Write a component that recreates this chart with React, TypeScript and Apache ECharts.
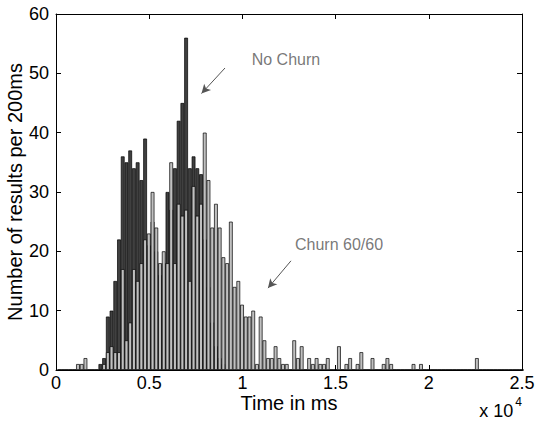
import React, { useEffect, useRef } from "react";
import * as echarts from "echarts";

// Histogram: 200 ms bins; origin of the first bin (ms)
const BIN_MS = 200;
const BIN_ORIGIN_MS = 80;

// "No Churn" counts per bin (dark bars), bins 0..124
const noChurn = [
  0, 0, 0, 0, 0, 0, 0, 0, 0, 0,
  0, 1, 2, 9, 10, 15, 22, 36, 35, 37,
  34, 35, 32, 39, 21, 25, 20, 16, 18, 30,
  27, 34, 42, 45, 56, 34, 36, 34, 33, 22,
  14, 8, 4, 2, 1, 0, 0, 0, 0, 0,
  0, 0, 0, 0, 0, 0, 0, 0, 0, 0,
  0, 0, 0, 0, 0, 0, 0, 0, 0, 0,
  0, 0, 0, 0, 0, 0, 0, 0, 0, 0,
  0, 0, 0, 0, 0, 0, 0, 0, 0, 0,
  0, 0, 0, 0, 0, 0, 0, 0, 0, 0,
  0, 0, 0, 0, 0, 0, 0, 0, 0, 0,
  0, 0, 0, 0, 0, 0, 0, 0, 0, 0,
  0, 0, 0, 0, 0,
];

// "Churn 60/60" counts per bin (light bars), bins 0..124
const churn = [
  0, 0, 0, 0, 0, 1, 1, 2, 0, 0,
  0, 0, 1, 3, 4, 3, 3, 17, 5, 8,
  17, 15, 18, 22, 23, 30, 24, 18, 20, 18,
  35, 18, 28, 26, 27, 15, 31, 26, 28, 40,
  32, 24, 28, 24, 19, 18, 25, 14, 15, 11,
  9, 9, 10, 1, 9, 5, 2, 2, 4, 2,
  1, 1, 0, 5, 2, 4, 0, 2, 1, 2,
  1, 1, 2, 0, 0, 4, 0, 1, 2, 0,
  1, 3, 0, 0, 2, 0, 0, 1, 2, 1,
  0, 0, 0, 0, 0, 1, 0, 1, 0, 0,
  0, 0, 0, 0, 0, 0, 0, 0, 0, 0,
  0, 0, 2, 0, 0, 0, 0, 0, 0, 0,
  0, 0, 0, 0, 0,
];

const xTickValues = [0, 5000, 10000, 15000, 20000, 25000];
const xTickLabels = ["0", "0.5", "1", "1.5", "2", "2.5"];
const yTickValues = [0, 10, 20, 30, 40, 50, 60];

// Annotations (data coordinates)
const noChurnLabel = { text: "No Churn", at: [10500, 52.4] };
const noChurnArrow = { from: [9067, 50.9], to: [7806, 46.6] };
const churnLabel = { text: "Churn 60/60", at: [12822, 21.1] };
const churnArrow = { from: [12607, 18.4], to: [11373, 13.8] };

const FONT = "Liberation Sans, Arial, Helvetica, sans-serif";
const W = 538;
const H = 423;
const GRID = { left: 56, right: 16, top: 14, bottom: 53 };

export default function App() {
  const ref = useRef<HTMLDivElement>(null);

  useEffect(() => {
    document.body.style.margin = "0";
    if (!ref.current) return;
    const chart = echarts.init(ref.current, undefined, { renderer: "svg" });
    const nBins = churn.length;
    const barPx = (W - GRID.left - GRID.right) / nBins;
    const toData = (arr: number[]) =>
      arr.map((v, i) => [BIN_ORIGIN_MS + BIN_MS * (i + 0.5), v]);

    const axisLine = { show: true, onZero: false, lineStyle: { color: "#000", width: 1 } };
    const tick = { show: true, inside: true, length: 5, lineStyle: { color: "#000", width: 1 } };

    const xBase = {
      type: "value",
      min: xTickValues[0],
      max: xTickValues[xTickValues.length - 1],
      interval: xTickValues[1] - xTickValues[0],
      axisLine,
      axisTick: tick,
      splitLine: { show: false },
    };
    const yBase = {
      type: "value",
      min: yTickValues[0],
      max: yTickValues[yTickValues.length - 1],
      interval: yTickValues[1] - yTickValues[0],
      axisLine,
      axisTick: tick,
      splitLine: { show: false },
    };

    const option: any = {
      animation: false,
      grid: { ...GRID, containLabel: false, outerBoundsMode: "none" },
      xAxis: [
        {
          ...xBase,
          position: "bottom",
          axisLabel: {
            color: "#000",
            fontSize: 18,
            fontFamily: FONT,
            margin: 4,
            formatter: (v: number) => xTickLabels[xTickValues.indexOf(v)] ?? "",
          },
          name: "Time in ms",
          nameLocation: "middle",
          nameGap: 23,
          nameMoveOverlap: false,
          nameTextStyle: { color: "#000", fontSize: 20, fontFamily: FONT },
        },
        { ...xBase, position: "top", axisLabel: { show: false } },
      ],
      yAxis: [
        {
          ...yBase,
          position: "left",
          axisLabel: { color: "#000", fontSize: 18, fontFamily: FONT, margin: 7 },
          name: "Number of results per 200ms",
          nameLocation: "middle",
          nameGap: 31,
          nameMoveOverlap: false,
          nameTextStyle: { color: "#000", fontSize: 20, fontFamily: FONT },
        },
        { ...yBase, position: "right", axisLabel: { show: false } },
      ],
      series: [
        {
          name: "No Churn",
          type: "bar",
          data: toData(noChurn),
          barWidth: barPx,
          barGap: "-100%",
          itemStyle: { color: "#404040", borderColor: "#000", borderWidth: 0.7 },
        },
        {
          name: "Churn 60/60",
          type: "bar",
          data: toData(churn),
          barWidth: barPx,
          barGap: "-100%",
          itemStyle: { color: "#c0c0c0", borderColor: "#000", borderWidth: 0.7 },
        },
        {
          type: "scatter",
          symbolSize: 0,
          silent: true,
          data: [
            { value: noChurnLabel.at, name: noChurnLabel.text },
            { value: churnLabel.at, name: churnLabel.text },
          ],
          label: {
            show: true,
            position: "right",
            distance: 0,
            formatter: (p: any) => p.name,
            color: "#555",
            fontSize: 16,
            fontFamily: FONT,
          },
          markLine: {
            silent: true,
            symbol: ["none", "arrow"],
            symbolSize: [7, 9],
            label: { show: false },
            lineStyle: { color: "#555", width: 1, type: "solid" },
            data: [
              [{ coord: noChurnArrow.from }, { coord: noChurnArrow.to }],
              [{ coord: churnArrow.from }, { coord: churnArrow.to }],
            ],
          },
        },
      ],
      graphic: [
        {
          type: "text",
          right: 16,
          top: 396,
          style: {
            text: "{a|x 10}{b|4}",
            fontFamily: FONT,
            fill: "#000",
            rich: {
              a: { fontSize: 18, lineHeight: 24, verticalAlign: "bottom", fontFamily: FONT },
              b: { fontSize: 12, lineHeight: 12, verticalAlign: "top", fontFamily: FONT, padding: [0, 0, 0, 2] },
            },
          },
        },
      ],
    };
    chart.setOption(option);
    return () => chart.dispose();
  }, []);

  return (
    <div
      ref={ref}
      style={{ position: "fixed", left: 0, top: 0, width: W, height: H, background: "#fff" }}
    />
  );
}
